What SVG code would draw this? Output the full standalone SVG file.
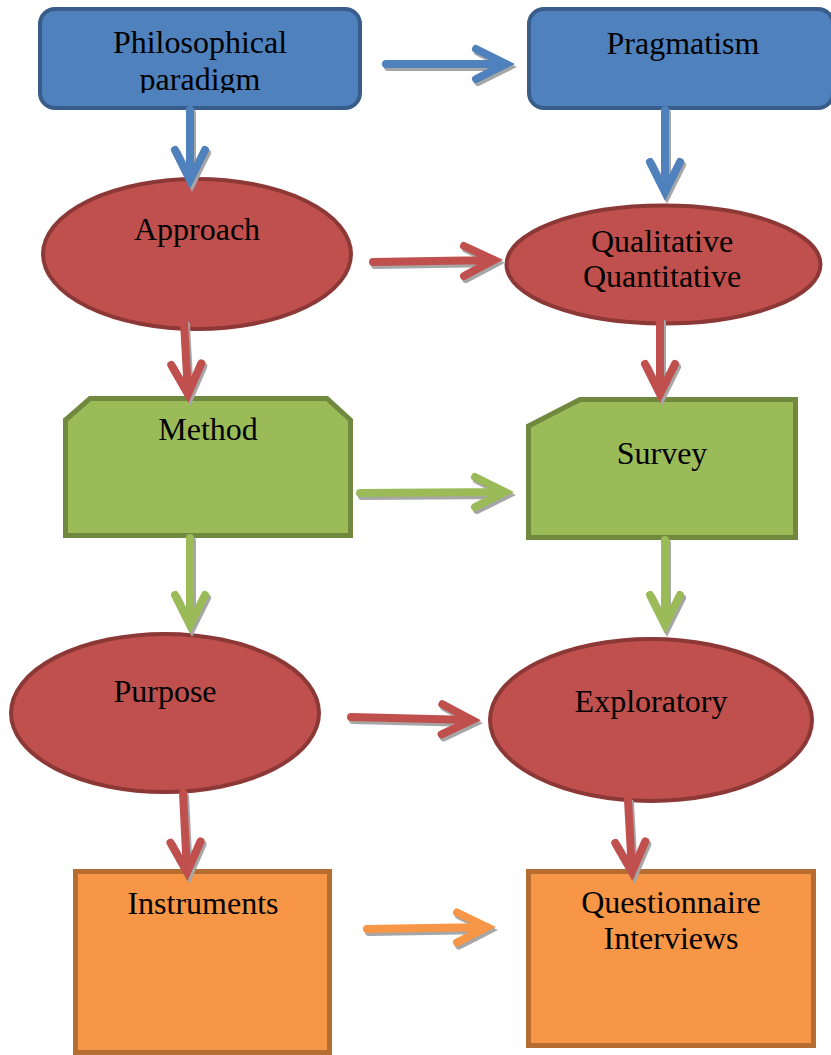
<svg xmlns="http://www.w3.org/2000/svg" width="831" height="1055" viewBox="0 0 831 1055">
<style>
text{font-family:"Liberation Serif","Times New Roman",serif;font-size:32px;fill:#000;text-anchor:middle}
.blue{fill:#4f81bd;stroke:#385d8a;stroke-width:4}
.red{fill:#c0504d;stroke:#8c3836;stroke-width:4}
.green{fill:#9bbb59;stroke:#71893f;stroke-width:5}
.orange{fill:#f79646;stroke:#b66d31;stroke-width:5}
.sh{fill:none;stroke:#a6a6a6;stroke-width:8;stroke-linecap:round;stroke-linejoin:miter}
.ar{fill:none;stroke-width:8;stroke-linecap:round;stroke-linejoin:miter}
.ab{stroke:#4f81bd}.arr{stroke:#c0504d}.ag{stroke:#9bbb59}.ao{stroke:#f79646}
</style>
<defs>
<clipPath id="clipPhil"><rect x="40" y="0" width="320" height="93"/></clipPath>
<path id="a1" d="M386 64 L506 64 M476 49 L506 64 L476 79"/>
<path id="a2" d="M190 110 L190 180 M175 150 L190 180 L205 150"/>
<path id="a3" d="M665 110 L665 192 M650 162 L665 192 L680 162"/>
<path id="a4" d="M373 262 L494 260 M464 246 L494 260 L464 276"/>
<path id="a5" d="M184 322 L188 394 M171.3 365 L188 394 L201.3 363.3"/>
<path id="a6" d="M660 320 L660 394 M645 364 L660 394 L675 364"/>
<path id="a7" d="M360 493 L505 492 M475 477 L505 492 L475 507"/>
<path id="a8" d="M190 538 L190 625 M175 595 L190 625 L205 595"/>
<path id="a9" d="M665 540 L665 625 M650 595 L665 625 L680 595"/>
<path id="a10" d="M351 717 L472 720 M442.4 704.3 L472 720 L441.6 734.3"/>
<path id="a11" d="M183 793 L187 872 M170.5 842.8 L187 872 L200.5 841.3"/>
<path id="a12" d="M628 800 L632 872 M615.3 842.9 L632 872 L645.3 841.3"/>
<path id="a13" d="M367 929 L487 927 M457 912.5 L487 927 L457 942.5"/>
</defs>

<g id="node-philosophical">
<rect class="blue" x="40" y="9" width="320" height="99" rx="15"/>
<g clip-path="url(#clipPhil)">
<text x="200" y="53">Philosophical</text>
<text x="200" y="90">paradigm</text>
</g>
</g>
<g id="node-pragmatism">
<rect class="blue" x="529" y="9" width="304" height="99" rx="15"/>
<text x="683" y="54">Pragmatism</text>
</g>
<g id="node-approach">
<ellipse class="red" cx="197" cy="254" rx="154" ry="75"/>
<text x="197" y="240">Approach</text>
</g>
<g id="node-qualitative">
<ellipse class="red" cx="663.5" cy="264.5" rx="157" ry="59"/>
<text x="662" y="252">Qualitative</text>
<text x="662" y="287">Quantitative</text>
</g>
<g id="node-method">
<path class="green" d="M65.5 420 L90 398.5 L327 398.5 L350.5 420 L350.5 535.5 L65.5 535.5 Z"/>
<text x="208" y="440">Method</text>
</g>
<g id="node-survey">
<path class="green" d="M528.5 426 L580 399.5 L795.5 399.5 L795.5 537.5 L528.5 537.5 Z"/>
<text x="662" y="464">Survey</text>
</g>
<g id="node-purpose">
<ellipse class="red" cx="165" cy="713" rx="154" ry="79"/>
<text x="165" y="702">Purpose</text>
</g>
<g id="node-exploratory">
<ellipse class="red" cx="651" cy="720" rx="161" ry="81"/>
<text x="651" y="712">Exploratory</text>
</g>
<g id="node-instruments">
<rect class="orange" x="75.5" y="871.5" width="254" height="181"/>
<text x="203" y="914">Instruments</text>
</g>
<g id="node-questionnaire">
<rect class="orange" x="528.5" y="871.5" width="285" height="174"/>
<text x="671" y="913">Questionnaire</text>
<text x="671" y="949">Interviews</text>
</g>

<g id="connectors">
<g transform="translate(2,3)" class="sh">
<use href="#a1"/><use href="#a2"/><use href="#a3"/><use href="#a4"/><use href="#a5"/><use href="#a6"/><use href="#a7"/><use href="#a8"/><use href="#a9"/><use href="#a10"/><use href="#a11"/><use href="#a12"/><use href="#a13"/>
</g>
<g class="ar ab"><use href="#a1"/><use href="#a2"/><use href="#a3"/></g>
<g class="ar arr"><use href="#a4"/><use href="#a5"/><use href="#a6"/><use href="#a10"/><use href="#a11"/><use href="#a12"/></g>
<g class="ar ag"><use href="#a7"/><use href="#a8"/><use href="#a9"/></g>
<g class="ar ao"><use href="#a13"/></g>
</g>
</svg>
